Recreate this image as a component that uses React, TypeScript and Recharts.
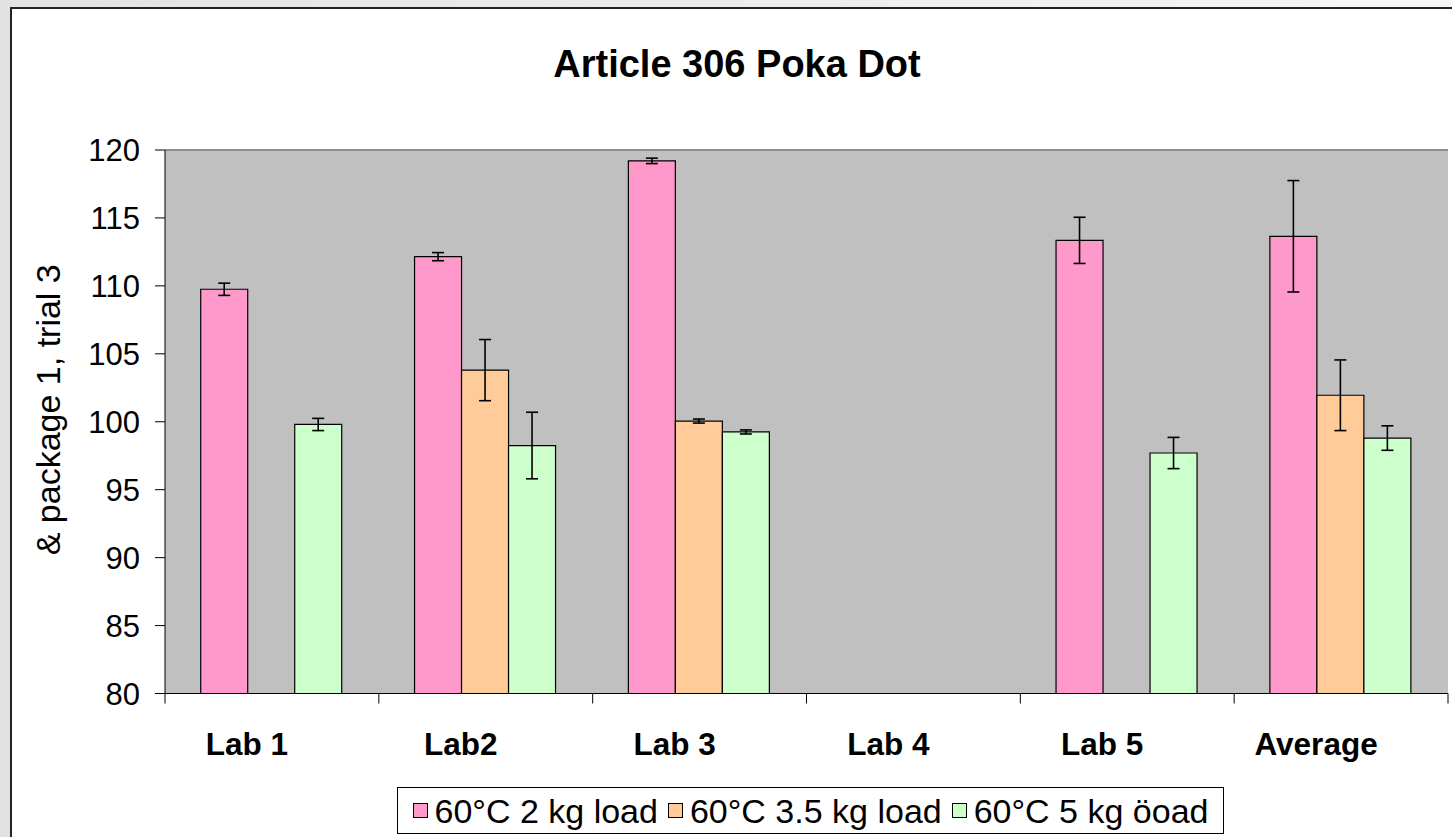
import React from 'react';
import { BarChart, Bar, XAxis, YAxis, CartesianGrid, ErrorBar, ReferenceLine } from 'recharts';

// Lab results, values read off the reference picture
const categories = ['Lab 1', 'Lab2', 'Lab 3', 'Lab 4', 'Lab 5', 'Average'];
const load2kg = [109.75, 112.15, 119.2, null, 113.35, 113.65];
const err2kg = [0.45, 0.3, 0.2, null, 1.7, 4.1];
const load35kg = [null, 103.8, 100.05, null, null, 101.95];
const err35kg = [null, 2.25, 0.15, null, null, 2.6];
const load5kg = [99.8, 98.25, 99.25, null, 97.7, 98.8];
const err5kg = [0.45, 2.45, 0.15, null, 1.15, 0.9];
const yTicks = [80, 85, 90, 95, 100, 105, 110, 115, 120];

const seriesNames = ['60°C 2 kg load', '60°C 3.5 kg load', '60°C 5 kg öoad'];
const colors = ['#ff99cc', '#ffcc99', '#ccffcc'];

const data = categories.map((name, i) => ({
  name,
  l2: load2kg[i],
  e2: err2kg[i],
  l35: load35kg[i],
  e35: err35kg[i],
  l5: load5kg[i],
  e5: err5kg[i],
}));

const FONT = '"Liberation Sans", Arial, sans-serif';
const W = 1452;
const H = 837;
const PLOT_W = 1283;

const XTick = (props: any) => {
  const { x, y, payload, index } = props;
  const half = PLOT_W / categories.length / 2;
  return (
    <g>
      <line x1={x - half} x2={x - half} y1={y} y2={y + 10} stroke="#000" />
      {index === categories.length - 1 && (
        <line x1={x + half} x2={x + half} y1={y} y2={y + 10} stroke="#000" />
      )}
      <text x={x - 25} y={y + 61} textAnchor="middle" fontFamily={FONT} fontSize={31.5} fontWeight="bold" fill="#000">
        {payload.value}
      </text>
    </g>
  );
};

const YLabel = (props: any) => {
  const vb = props.viewBox || {};
  const cy = (vb.y ?? 150) + (vb.height ?? 543) / 2 - 12;
  return (
    <text x={60} y={cy} transform={`rotate(-90, 60, ${cy})`} textAnchor="middle" fontFamily={FONT} fontSize={34} fill="#000">
      & package 1, trial 3
    </text>
  );
};

export default function App() {
  return (
    <div style={{ position: 'absolute', left: 0, top: 0, width: W, height: H, overflow: 'hidden', background: 'linear-gradient(90deg, #e2e2e2, #f6f6f6)', fontFamily: FONT }}>
      <div style={{ position: 'absolute', left: 10, top: 7, width: W, height: H, background: '#fff', borderTop: '2px solid #222', borderLeft: '2px solid #222' }} />
      <div style={{ position: 'absolute', left: 0, width: 1474, top: 45, textAlign: 'center', fontSize: 38, lineHeight: '38px', fontWeight: 'bold', color: '#000' }}>
        Article 306 Poka Dot
      </div>
      <div style={{ position: 'absolute', left: 0, top: 0 }}>
        <BarChart width={W} height={H} data={data} margin={{ top: 150, right: 4, left: 90, bottom: 113.5 }} barCategoryGap="16.7%" barGap={0}>
          <CartesianGrid vertical={false} fill="#c0c0c0" stroke="#1a1a1a" fillOpacity={1} />
          <XAxis dataKey="name" height={30} interval={0} tickLine={false} tickSize={0} tickMargin={0} axisLine={{ stroke: '#000' }} tick={<XTick />} />
          <YAxis yAxisId="left" type="number" domain={[80, 120]} ticks={yTicks} width={75} tickSize={10} tickMargin={15}
            axisLine={{ stroke: '#000' }} tickLine={{ stroke: '#000' }}
            tick={{ fill: '#000', fontSize: 31, fontFamily: FONT }} label={<YLabel />} />
          <YAxis yAxisId="right" orientation="right" width={0} domain={[80, 120]} tick={false} tickLine={false} axisLine={{ stroke: '#8c8c8c', strokeWidth: 2 }} />
          <ReferenceLine yAxisId="left" y={120} stroke="#8c8c8c" strokeWidth={2} />
          <Bar yAxisId="left" dataKey="l2" name={seriesNames[0]} fill={colors[0]} stroke="#000" strokeWidth={1.2} isAnimationActive={false}>
            <ErrorBar dataKey="e2" width={6} stroke="#000" strokeWidth={1.6} direction="y" />
          </Bar>
          <Bar yAxisId="left" dataKey="l35" name={seriesNames[1]} fill={colors[1]} stroke="#000" strokeWidth={1.2} isAnimationActive={false}>
            <ErrorBar dataKey="e35" width={6} stroke="#000" strokeWidth={1.6} direction="y" />
          </Bar>
          <Bar yAxisId="left" dataKey="l5" name={seriesNames[2]} fill={colors[2]} stroke="#000" strokeWidth={1.2} isAnimationActive={false}>
            <ErrorBar dataKey="e5" width={6} stroke="#000" strokeWidth={1.6} direction="y" />
          </Bar>
        </BarChart>
      </div>
      <div style={{ position: 'absolute', left: 397, top: 787, width: 827, height: 47, boxSizing: 'border-box', border: '1px solid #000', background: '#fff', display: 'flex', alignItems: 'center', justifyContent: 'center' }}>
        {seriesNames.map((n, i) => (
          <div key={n} style={{ display: 'flex', alignItems: 'center', marginRight: i < 2 ? 10 : 0 }}>
            <span style={{ width: 15, height: 15, boxSizing: 'border-box', border: '1px solid #000', background: colors[i], marginRight: 7, display: 'inline-block' }} />
            <span style={{ fontSize: 34, lineHeight: '40px', color: '#000', whiteSpace: 'nowrap' }}>{n}</span>
          </div>
        ))}
      </div>
    </div>
  );
}
